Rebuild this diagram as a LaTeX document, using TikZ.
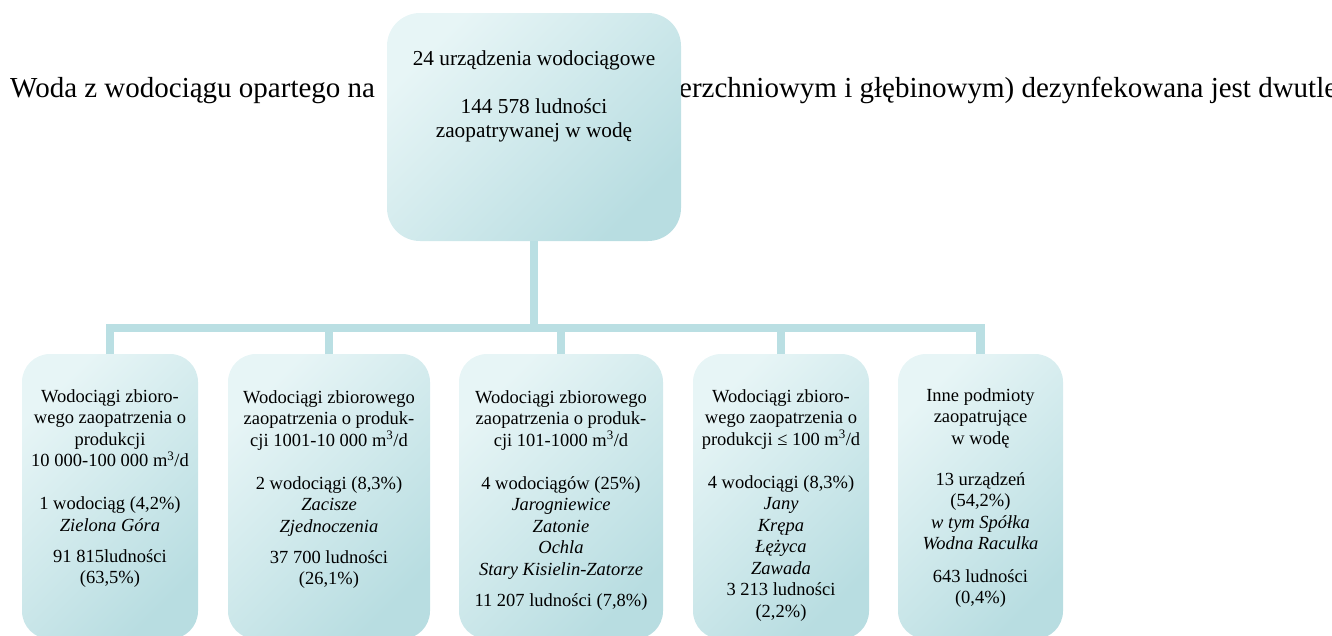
\documentclass[tikz,border=0pt]{standalone}
\usepackage{fontspec}
\setmainfont{Liberation Serif}
\definecolor{boxlight}{RGB}{231,245,246}
\definecolor{boxdark}{RGB}{184,221,225}
\definecolor{conncol}{RGB}{186,223,227}
\begin{document}
\begin{tikzpicture}[x=1pt,y=-1pt,
  orgbox/.style={rectangle, rounded corners=28pt, inner sep=0pt, outer sep=0pt,
    anchor=north west, top color=boxlight, bottom color=boxdark, shading angle=45},
  boxtext/.style={align=center, inner sep=0pt, anchor=north,
    font=\fontsize{18.5}{21.5}\selectfont},
  bgtext/.style={inner sep=0pt, anchor=base west, font=\fontsize{29}{33}\selectfont},
  link/.style={draw=conncol, line width=8.5pt, line join=miter}]
\useasboundingbox (0,0) rectangle (1332,635);

% background sentence (partly hidden by the top box)
\node[bgtext] (bgl) at (10,97) {Woda z wodociągu opartego na};
\node[bgtext] (bgr) at (679,97) {erzchniowym i głębinowym) dezynfekowana jest dwutle};

% boxes
\node[orgbox, rounded corners=33pt, minimum width=294pt, minimum height=228pt] (top) at (387,13) {};
\node[orgbox, minimum width=176pt, minimum height=285pt] (b1) at (22,354) {};
\node[orgbox, minimum width=202pt, minimum height=285pt] (b2) at (228,354) {};
\node[orgbox, minimum width=204pt, minimum height=285pt] (b3) at (459,354) {};
\node[orgbox, minimum width=176pt, minimum height=285pt] (b4) at (693,354) {};
\node[orgbox, minimum width=165pt, minimum height=285pt] (b5) at (898,354) {};

% connectors
\coordinate (hub) at (534,328);
\draw[link] (top.south) -- (top.south |- hub);
\draw[link] (b1.north) |- (hub) -| (b5.north);
\draw[link] (b2.north) -- (b2.north |- hub);
\draw[link] (b3.north) -- (b3.north |- hub);
\draw[link] (b4.north) -- (b4.north |- hub);

% texts
\node[boxtext, font=\fontsize{21.3}{24.5}\selectfont] (ttop) at (534,47.9)
  {\strut 24 urządzenia wodociągowe\\[23.5pt] 144 578 ludności\\ zaopatrywanej w wodę};

\node[boxtext] (t1) at (110,387)
  {\strut Wodociągi zbioro-\\ wego zaopatrzenia o\\ produkcji\\ 10 000-100 000 m\textsuperscript{3}/d\\[21.5pt]
   1 wodociąg (4,2\%)\\ \textit{Zielona Góra}\\[9.5pt] 91 815ludności\\ (63,5\%)};

\node[boxtext] (t2) at (329,388)
  {\strut Wodociągi zbiorowego\\ zaopatrzenia o produk-\\ cji 1001-10 000 m\textsuperscript{3}/d\\[21.5pt]
   2 wodociągi (8,3\%)\\ \textit{Zacisze}\\ \textit{Zjednoczenia}\\[9.5pt] 37 700 ludności\\ (26,1\%)};

\node[boxtext] (t3) at (561,388)
  {\strut Wodociągi zbiorowego\\ zaopatrzenia o produk-\\ cji 101-1000 m\textsuperscript{3}/d\\[21.5pt]
   4 wodociągów (25\%)\\ \textit{Jarogniewice}\\ \textit{Zatonie}\\ \textit{Ochla}\\ \textit{Stary Kisielin-Zatorze}\\[10pt]
   11 207 ludności (7,8\%)};

\node[boxtext] (t4) at (781,387)
  {\strut Wodociągi zbioro-\\ wego zaopatrzenia o\\ produkcji ≤ 100 m\textsuperscript{3}/d\\[21.5pt]
   4 wodociągi (8,3\%)\\ \textit{Jany}\\ \textit{Krępa}\\ \textit{Łężyca}\\ \textit{Zawada}\\ 3 213 ludności\\ (2,2\%)};

\node[boxtext] (t5) at (980.5,386)
  {\strut Inne podmioty\\ zaopatrujące\\ w wodę\\[19.5pt]
   13 urządzeń\\ (54,2\%)\\ \textit{w tym Spółka}\\ \textit{Wodna Raculka}\\[11pt] 643 ludności\\ (0,4\%)};
\end{tikzpicture}
\end{document}
